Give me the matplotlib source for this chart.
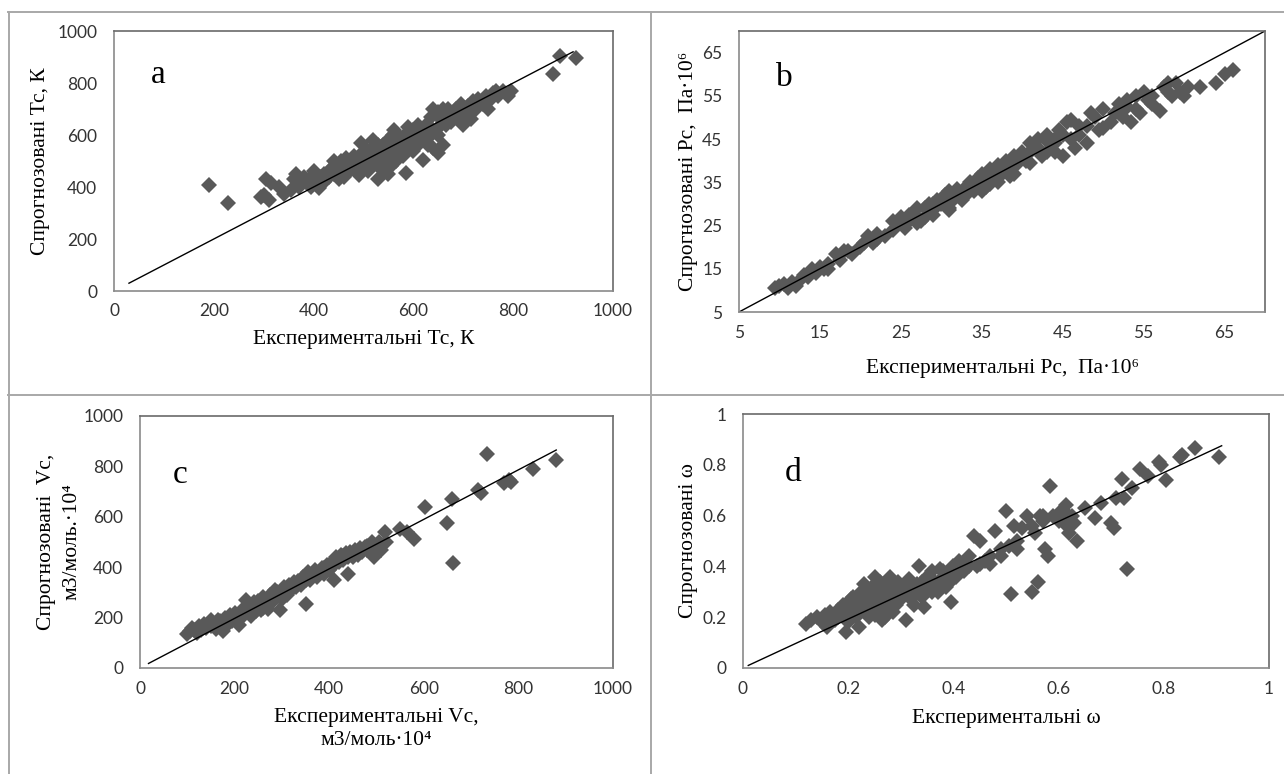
import matplotlib.pyplot as plt
from matplotlib.lines import Line2D

# ---- дані ----
# a: Tc, K
a_x = [190, 228, 295, 300, 305, 310, 315, 330, 340, 355, 365, 370, 380, 385, 395, 400, 405, 410,
       415, 420, 425, 430, 440, 445, 450, 455, 460, 465, 470, 475, 480, 485, 490, 495, 500, 505,
       510, 515, 520, 525, 530, 535, 540, 545, 550, 555, 560, 562, 565, 570, 575, 580, 585, 590,
       595, 600, 605, 610, 615, 620, 625, 630, 635, 640, 640, 645, 650, 650, 655, 660, 660, 665,
       670, 675, 680, 685, 690, 695, 700, 705, 710, 715, 720, 725, 730, 740, 745, 750, 755, 760,
       765, 770, 780, 790, 795, 880, 893, 925,
       430, 460, 490, 520, 545, 575, 600, 630, 610, 590, 560, 540, 500, 470, 450,
       420, 440, 460, 480, 500, 520, 540, 560, 580, 600, 620, 640, 660, 680, 700, 720, 740,
       510, 530, 550, 570, 590, 610, 630, 650, 670, 690, 600, 580, 555, 535, 515, 495, 475,
       455, 435, 415, 390, 375, 360]
a_y = [408, 340, 360, 370, 430, 350, 415, 400, 375, 390, 450, 400, 440, 420, 400, 460, 430, 395,
       410, 450, 430, 440, 500, 470, 455, 480, 440, 510, 490, 470, 520, 500, 445, 570, 480, 510,
       460, 545, 580, 500, 430, 520, 560, 490, 450, 530, 600, 620, 500, 560, 540, 590, 455, 610,
       560, 620, 580, 560, 600, 505, 640, 590, 670, 550, 700, 620, 530, 690, 660, 560, 700, 640,
       680, 650, 690, 700, 660, 720, 640, 700, 710, 660, 730, 700, 740, 720, 750, 700, 740, 760,
       770, 750, 770, 750, 770, 835, 905, 895,
       460, 490, 520, 540, 560, 580, 590, 630, 640, 560, 520, 510, 530, 460, 430,
       420, 450, 470, 480, 500, 510, 530, 550, 570, 600, 610, 620, 650, 670, 690, 710, 730,
       540, 560, 580, 600, 630, 580, 560, 600, 700, 700, 540, 520, 480, 470, 490, 460, 500,
       500, 470, 440, 430, 410, 430]
a_line = [30, 920]

# b: Pc, Па·10^6
b_x = [9.5, 10, 10.5, 11, 11.5, 12, 12.5, 13, 13.5, 14, 14.5, 15, 15.5, 16, 17, 17.5, 18, 19, 20,
       21, 21.5, 22, 23, 24, 25, 25.5, 26, 26.5, 27, 27.5, 28, 28.5, 29, 29.5, 30, 30.5, 31, 31.5,
       32, 32.5, 33, 33.5, 34, 34.5, 35, 35.5, 36, 36.5, 37, 37.5, 38, 38.5, 39, 39.5, 40, 40.5,
       41, 41.5, 42, 42.5, 43, 43.5, 44, 44.5, 45, 45.5, 46, 46.5, 47, 48, 48.5, 49, 49.5, 50, 51,
       51.5, 52, 52.5, 53, 53.5, 54, 54.5, 55, 55.5, 56, 57, 57.5, 58, 58.5, 59, 59.5, 60, 60.5,
       62, 64, 65, 66,
       35, 33, 37, 39, 41, 43, 31, 27, 29, 22, 16, 38.5, 36, 44, 46, 47,
       24, 26, 28, 30, 32, 34, 36, 38, 40, 42, 44, 25, 27, 29, 31, 33, 35, 37, 39, 41, 43, 45,
       20.5, 18.5, 50, 52, 54, 56, 58, 53, 48]
b_y = [10.5, 11, 11.5, 10.5, 12, 11, 12.5, 13.5, 13, 15, 14, 15.5, 15, 16, 18.5, 17, 19, 18.5, 20,
       22.5, 21, 23, 22.5, 24, 27, 24.5, 26, 28, 27, 26, 29, 30, 28.5, 31, 30, 32, 29, 31,
       33.5, 31, 34, 35, 33, 36, 37, 34, 38, 36, 39, 37, 40, 38, 41, 39.5, 42, 40,
       44, 43, 45, 41, 46, 44, 42, 47, 41, 49, 45, 43, 48, 44, 51, 50, 47, 52, 49,
       51, 53, 50, 54, 49, 52, 51, 56, 54, 53, 51.5, 57, 56, 55, 58, 56, 55, 57,
       57, 58, 60, 61,
       33, 32, 35, 37, 39.5, 42, 28.5, 25.5, 27.5, 22, 15, 36.5, 34.5, 45, 49.5, 46,
       26, 27.5, 27, 31, 32, 34.5, 37, 38.5, 41, 43, 44, 25.5, 29, 30, 33, 33, 36, 38, 40, 42,
       44.5, 46, 21, 19, 47.5, 51, 55, 55, 58, 52.5, 48]
b_line = [5, 70]

# c: Vc, м3/моль·10^4
c_x = [100, 105, 110, 115, 120, 125, 130, 135, 140, 145, 150, 155, 160, 165, 170, 175, 180, 185,
       190, 195, 200, 205, 210, 215, 220, 225, 230, 235, 240, 245, 250, 255, 260, 265, 270, 275,
       280, 285, 290, 295, 300, 305, 310, 315, 320, 325, 330, 335, 340, 345, 350, 355, 360, 365,
       370, 375, 380, 385, 390, 395, 400, 405, 410, 415, 420, 425, 430, 435, 440, 445, 450, 455,
       460, 465, 470, 475, 480, 490, 495, 500, 505, 510, 518, 520, 550, 565, 580, 602, 648, 660,
       662, 715, 720, 733, 770, 780, 785, 830, 880,
       150, 170, 190, 210, 230, 250, 270, 290, 310, 330, 350, 370, 390, 410, 430, 450, 470, 490,
       200, 240, 280, 320, 360, 400, 440, 480, 260, 300]
c_y = [135, 145, 160, 150, 140, 165, 150, 175, 160, 180, 190, 170, 155, 190, 165, 145, 200, 175,
       210, 185, 220, 195, 170, 230, 210, 270, 240, 205, 260, 225, 250, 230, 280, 255, 235, 290,
       260, 310, 280, 230, 300, 320, 290, 330, 310, 340, 320, 345, 330, 360, 255, 380, 350, 370,
       390, 360, 380, 395, 375, 410, 390, 420, 350, 440, 420, 450, 430, 455, 375, 460, 440, 470,
       450, 475, 460, 480, 470, 500, 440, 480, 500, 470, 540, 500, 550, 540, 510, 640, 575, 670,
       415, 705, 695, 850, 735, 745, 740, 790, 825,
       165, 185, 195, 215, 225, 265, 270, 300, 310, 335, 350, 375, 395, 410, 445, 455, 470, 490,
       195, 240, 280, 320, 365, 405, 440, 485, 240, 275]
c_line_x = [18, 880]
c_line_y = [18, 865]

# d: ω
d_x = [0.12, 0.13, 0.14, 0.15, 0.155, 0.16, 0.165, 0.17, 0.175, 0.18, 0.185, 0.19, 0.195, 0.2,
       0.205, 0.21, 0.215, 0.22, 0.225, 0.23, 0.235, 0.24, 0.245, 0.25, 0.255, 0.26, 0.265, 0.27,
       0.275, 0.28, 0.285, 0.29, 0.295, 0.3, 0.305, 0.31, 0.315, 0.32, 0.325, 0.33, 0.335, 0.34,
       0.345, 0.35, 0.355, 0.36, 0.365, 0.37, 0.375, 0.38, 0.385, 0.39, 0.395, 0.4, 0.405, 0.41,
       0.42, 0.43, 0.44, 0.445, 0.45, 0.46, 0.47, 0.48, 0.49, 0.5, 0.505, 0.51, 0.515, 0.52, 0.53,
       0.54, 0.55, 0.555, 0.56, 0.565, 0.57, 0.575, 0.58, 0.583, 0.59, 0.6, 0.61, 0.615, 0.62,
       0.625, 0.63, 0.635, 0.65, 0.67, 0.68, 0.7, 0.705, 0.71, 0.72, 0.725, 0.73, 0.74, 0.755,
       0.77, 0.79, 0.795, 0.805, 0.83, 0.835, 0.86, 0.905,
       0.2, 0.22, 0.24, 0.26, 0.28, 0.3, 0.32, 0.34, 0.27, 0.25, 0.29, 0.23, 0.21, 0.36, 0.38,
       0.18, 0.19, 0.2, 0.21, 0.22, 0.23, 0.24, 0.25, 0.26, 0.27, 0.28, 0.29, 0.3, 0.31, 0.32,
       0.33, 0.34, 0.35, 0.37, 0.39, 0.41, 0.43, 0.45, 0.47, 0.49, 0.52, 0.55, 0.57, 0.6, 0.62,
       0.25, 0.23, 0.26, 0.28, 0.2, 0.24]
d_y = [0.175, 0.19, 0.2, 0.18, 0.21, 0.16, 0.22, 0.2, 0.19, 0.23, 0.21, 0.25, 0.14, 0.22,
       0.27, 0.24, 0.2, 0.16, 0.3, 0.26, 0.22, 0.28, 0.32, 0.36, 0.25, 0.3, 0.19, 0.33,
       0.26, 0.36, 0.22, 0.3, 0.34, 0.27, 0.32, 0.19, 0.35, 0.29, 0.25, 0.33, 0.4, 0.31,
       0.24, 0.36, 0.32, 0.38, 0.34, 0.3, 0.39, 0.35, 0.32, 0.37, 0.26, 0.4, 0.36, 0.42,
       0.38, 0.44, 0.52, 0.4, 0.5, 0.42, 0.41, 0.54, 0.44, 0.62, 0.48, 0.29, 0.56, 0.47, 0.55,
       0.6, 0.3, 0.53, 0.34, 0.6, 0.58, 0.47, 0.44, 0.715, 0.6, 0.61, 0.57, 0.64, 0.53,
       0.6, 0.57, 0.5, 0.63, 0.59, 0.65, 0.57, 0.55, 0.67, 0.745, 0.67, 0.39, 0.71, 0.785,
       0.755, 0.81, 0.8, 0.74, 0.83, 0.84, 0.865, 0.83,
       0.25, 0.27, 0.24, 0.27, 0.29, 0.3, 0.32, 0.34, 0.2, 0.21, 0.25, 0.29, 0.28, 0.3, 0.38,
       0.2, 0.22, 0.2, 0.22, 0.24, 0.23, 0.26, 0.28, 0.22, 0.24, 0.26, 0.28, 0.32, 0.3, 0.27,
       0.3, 0.28, 0.31, 0.34, 0.33, 0.38, 0.4, 0.41, 0.44, 0.47, 0.5, 0.56, 0.6, 0.58, 0.6,
       0.32, 0.33, 0.34, 0.32, 0.18, 0.2]
d_line_x = [0.01, 0.91]
d_line_y = [0.01, 0.875]

ticks_1000 = [0, 200, 400, 600, 800, 1000]
ticks_b = [5, 15, 25, 35, 45, 55, 65]
ticks_d = [0, 0.2, 0.4, 0.6, 0.8, 1]
ticks_d_lab = ["0", "0.2", "0.4", "0.6", "0.8", "1"]

SERIF = ['Liberation Serif', 'DejaVu Serif']
TICKF = 'Lato'
MCOL = '#595959'
MS = 8.5
LFS = 15.5
W, H = 1284, 774

fig = plt.figure(figsize=(W / 100, H / 100), dpi=100)


def make_ax(l, r, t, b):
    return fig.add_axes([l / W, 1 - b / H, (r - l) / W, (b - t) / H])


def style(ax, xt, yt, xlab=None, ylab=None):
    ax.set_xticks(xt)
    ax.set_yticks(yt)
    if xlab is not None:
        ax.set_xticklabels(xlab)
        ax.set_yticklabels(ylab)
    ax.tick_params(length=0, labelsize=12.5, colors='#333333')
    ax.tick_params(axis='x', pad=9)
    ax.tick_params(axis='y', pad=12)
    for lb in ax.get_xticklabels() + ax.get_yticklabels():
        lb.set_family(TICKF)
    for s in ax.spines.values():
        s.set_color('#8a8a8a')
        s.set_linewidth(1.2)
    ax.spines['top'].set_color('#6a6a6a')
    ax.spines['right'].set_color('#6a6a6a')


def letter(ax, x, y, s):
    ax.text(x, y, s, transform=ax.transAxes, family=SERIF, fontsize=24, ha='center', va='center')


# a
ax = make_ax(114, 613, 31, 291)
ax.plot(a_x, a_y, 'D', color=MCOL, ms=MS, mew=0)
ax.plot(a_line, a_line, color='black', lw=1)
ax.set_xlim(0, 1000)
ax.set_ylim(0, 1000)
style(ax, ticks_1000, ticks_1000)
ax.set_xlabel("Експериментальні Тс, К", family=SERIF, fontsize=LFS)
ax.set_ylabel("Спрогнозовані Тс, К", family=SERIF, fontsize=LFS)
ax.xaxis.set_label_coords(0.5, -0.15)
ax.yaxis.set_label_coords(-0.128, 0.5)
letter(ax, 0.088, 0.83, "a")

# b
ax = make_ax(739, 1265, 31, 312)
ax.plot(b_x, b_y, 'D', color=MCOL, ms=MS, mew=0)
ax.plot(b_line, b_line, color='black', lw=1)
ax.set_xlim(5, 70)
ax.set_ylim(5, 70)
style(ax, ticks_b, ticks_b)
ax.set_xlabel("Експериментальні Рс,  Па·10⁶", family=SERIF, fontsize=LFS)
ax.set_ylabel("Спрогнозовані Рс,  Па·10⁶", family=SERIF, fontsize=LFS)
ax.xaxis.set_label_coords(0.5, -0.167)
ax.yaxis.set_label_coords(-0.078, 0.5)
letter(ax, 0.087, 0.833, "b")

# c
ax = make_ax(140, 613, 416, 668)
ax.plot(c_x, c_y, 'D', color=MCOL, ms=MS, mew=0)
ax.plot(c_line_x, c_line_y, color='black', lw=1)
ax.set_xlim(0, 1000)
ax.set_ylim(0, 1000)
style(ax, ticks_1000, ticks_1000)
ax.set_xlabel("Експериментальні Vc,\nм3/моль·10⁴", family=SERIF, fontsize=LFS, linespacing=1.3)
ax.set_ylabel("Спрогнозовані  Vc,\nм3/моль.·10⁴", family=SERIF, fontsize=LFS, linespacing=1.5)
ax.xaxis.set_label_coords(0.5, -0.159)
ax.yaxis.set_label_coords(-0.123, 0.5)
letter(ax, 0.085, 0.766, "c")

# d
ax = make_ax(743, 1269, 414, 668)
ax.plot(d_x, d_y, 'D', color=MCOL, ms=MS, mew=0)
ax.plot(d_line_x, d_line_y, color='black', lw=1)
ax.set_xlim(0, 1)
ax.set_ylim(0, 1)
style(ax, ticks_d, ticks_d, ticks_d_lab, ticks_d_lab)
ax.set_xlabel("Експериментальні ω", family=SERIF, fontsize=LFS)
ax.set_ylabel("Спрогнозовані ω", family=SERIF, fontsize=LFS)
ax.xaxis.set_label_coords(0.5, -0.161)
ax.yaxis.set_label_coords(-0.086, 0.5)
letter(ax, 0.095, 0.768, "d")

# рамки таблиці
bc = '#a8a8a8'
for xs, ys in [([8, W], [12, 12]), ([9, 9], [12, H]), ([651, 651], [12, H]), ([8, W], [395, 395])]:
    fig.add_artist(Line2D([x / W for x in xs], [1 - y / H for y in ys], color=bc, lw=1.4))

fig.savefig("out.png", dpi=100)
